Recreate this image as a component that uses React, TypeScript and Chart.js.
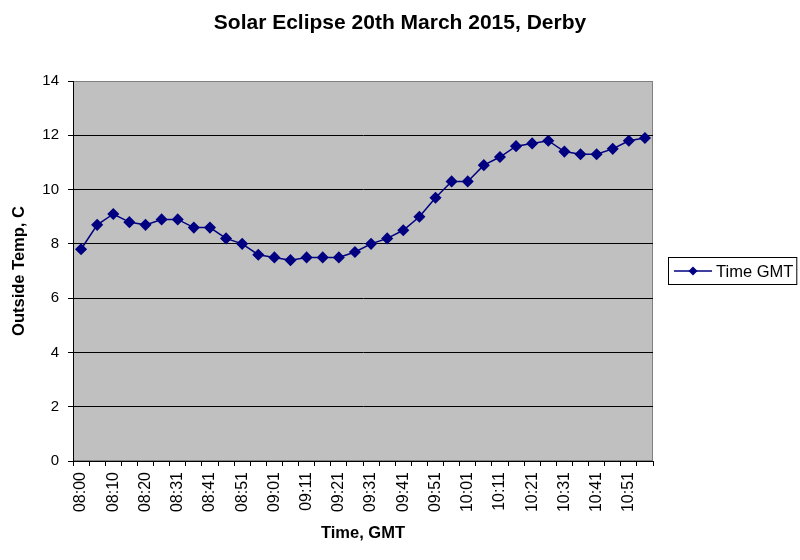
import { useEffect, useRef } from "react";
import { Chart, registerables } from "chart.js";
import type { Plugin } from "chart.js";

Chart.register(...registerables);

const times = [
  "08:00", "08:05", "08:10", "08:15", "08:20", "08:25", "08:31", "08:36", "08:41",
  "08:46", "08:51", "08:56", "09:01", "09:06", "09:11", "09:16", "09:21", "09:26",
  "09:31", "09:36", "09:41", "09:46", "09:51", "09:56", "10:01", "10:06", "10:11",
  "10:16", "10:21", "10:26", "10:31", "10:36", "10:41", "10:46", "10:51", "10:56",
];

const outsideTemp = [
  7.8, 8.7, 9.1, 8.8, 8.7, 8.9, 8.9, 8.6, 8.6, 8.2, 8.0, 7.6, 7.5, 7.4, 7.5, 7.5, 7.5, 7.7,
  8.0, 8.2, 8.5, 9.0, 9.7, 10.3, 10.3, 10.9, 11.2, 11.6, 11.7, 11.8, 11.4, 11.3, 11.3, 11.5,
  11.8, 11.9,
];

const seriesName = "Time GMT";
const FONT = "Arial, 'Liberation Sans', sans-serif";
const NAVY = "#000080";

// grey plot area with a grey frame, like the old Excel charts
const plotBackground: Plugin<"line"> = {
  id: "plotBackground",
  afterLayout(chart) {
    // centre the title over the whole canvas, not just the plot + axes
    const t = (chart as any).titleBlock;
    if (t) {
      t.left = 0;
      t.right = chart.width;
      t.width = chart.width;
    }
  },
  beforeDraw(chart) {
    const { ctx, chartArea: a } = chart;
    ctx.save();
    ctx.fillStyle = "#c0c0c0";
    ctx.fillRect(a.left, a.top, a.right - a.left, a.bottom - a.top);
    ctx.strokeStyle = "#808080";
    ctx.lineWidth = 1;
    ctx.strokeRect(a.left + 0.5, a.top + 0.5, a.right - a.left - 1, a.bottom - a.top - 1);
    ctx.restore();
  },
};

// boxed legend to the right of the plot
const boxedLegend: Plugin<"line"> = {
  id: "boxedLegend",
  afterDraw(chart) {
    const { ctx, chartArea: a } = chart;
    const label = chart.data.datasets[0].label ?? "";
    const x = a.right + 15;
    const h = 28;
    const y = Math.round((a.top + a.bottom) / 2 - h / 2);
    ctx.save();
    ctx.font = `16.5px ${FONT}`;
    const w = 48 + ctx.measureText(label).width + 4;
    ctx.fillStyle = "#fff";
    ctx.fillRect(x, y, w, h);
    ctx.strokeStyle = "#000";
    ctx.lineWidth = 1;
    ctx.strokeRect(x + 0.5, y + 0.5, w - 1, h - 1);
    const cy = y + h / 2;
    ctx.strokeStyle = NAVY;
    ctx.lineWidth = 1.5;
    ctx.beginPath();
    ctx.moveTo(x + 6, cy);
    ctx.lineTo(x + 44, cy);
    ctx.stroke();
    ctx.fillStyle = NAVY;
    ctx.beginPath();
    ctx.moveTo(x + 25, cy - 4.5);
    ctx.lineTo(x + 29.5, cy);
    ctx.lineTo(x + 25, cy + 4.5);
    ctx.lineTo(x + 20.5, cy);
    ctx.closePath();
    ctx.fill();
    ctx.fillStyle = "#000";
    ctx.textBaseline = "middle";
    ctx.fillText(label, x + 48, cy + 1);
    ctx.restore();
  },
};

function EclipseChart() {
  const canvasRef = useRef<HTMLCanvasElement | null>(null);

  useEffect(() => {
    if (!canvasRef.current) return;
    const chart = new Chart(canvasRef.current, {
      type: "line",
      data: {
        labels: times,
        datasets: [
          {
            label: seriesName,
            data: outsideTemp,
            borderColor: NAVY,
            backgroundColor: NAVY,
            borderWidth: 1.5,
            pointStyle: "rectRot",
            pointRadius: 5,
            pointHoverRadius: 5,
            tension: 0,
          },
        ],
      },
      options: {
        responsive: true,
        maintainAspectRatio: false,
        animation: false,
        layout: { padding: { left: 0, right: 147, top: 0, bottom: 0 } },
        plugins: {
          legend: { display: false },
          tooltip: { enabled: false },
          title: {
            display: true,
            text: "Solar Eclipse 20th March 2015, Derby",
            color: "#000",
            font: { family: FONT, size: 21, weight: "bold" },
            padding: { top: 11, bottom: 44.8 },
          },
        },
        scales: {
          x: {
            offset: true,
            afterFit: (scale) => {
              scale.height = 99;
            },
            grid: {
              offset: true,
              drawOnChartArea: false,
              color: "#000",
              tickLength: 5,
            },
            border: { color: "#000" },
            ticks: {
              autoSkip: false,
              maxRotation: 90,
              minRotation: 90,
              padding: 6,
              color: "#000",
              font: { family: FONT, size: 16 },
              callback: (_v, i) => (i % 2 === 0 ? times[i] : ""),
            },
            title: {
              display: true,
              text: "Time, GMT",
              color: "#000",
              font: { family: FONT, size: 16.5, weight: "bold" },
              padding: { bottom: 17 },
            },
          },
          y: {
            min: 0,
            max: 14,
            afterFit: (scale) => {
              scale.width = 73;
            },
            grid: {
              color: (c) => (c.tick && c.tick.value === 14 ? "#808080" : "#000"),
              tickColor: "#000",
              tickLength: 5,
            },
            border: { color: "#000" },
            ticks: {
              stepSize: 2,
              padding: 9,
              color: "#000",
              font: { family: FONT, size: 15 },
            },
            title: {
              display: true,
              text: "Outside Temp, C",
              color: "#000",
              font: { family: FONT, size: 16.5, weight: "bold" },
              padding: { top: 10 },
            },
          },
        },
      },
      plugins: [plotBackground, boxedLegend],
    });

    return () => {
      chart.destroy();
    };
  }, []);

  return (
    <div style={{ position: "absolute", left: 0, top: 0, width: 800, height: 560, background: "#fff" }}>
      <canvas ref={canvasRef} />
    </div>
  );
}

export default function App() {
  return <EclipseChart />;
}
